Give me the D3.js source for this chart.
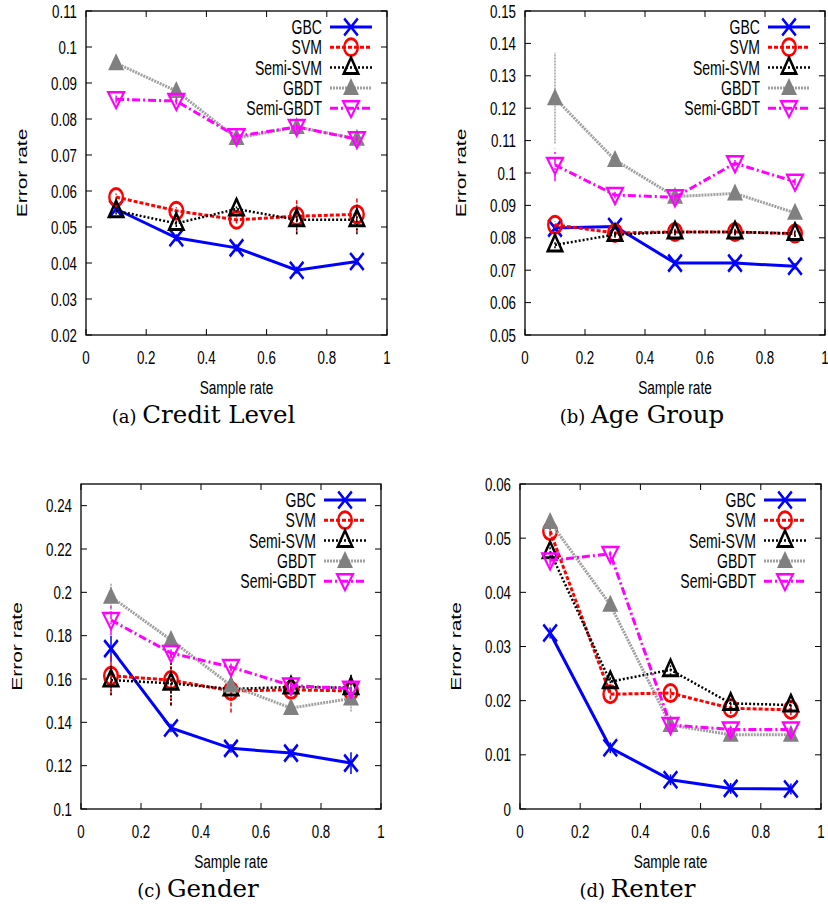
<!DOCTYPE html>
<html>
<head>
<meta charset="utf-8">
<script src="https://cdn.jsdelivr.net/npm/d3@7"></script>
<style>
  body { margin: 0; background: #fff; }
  svg { display: block; }
</style>
</head>
<body>
<div id="chart"></div>
<script>
// sample rates on the x axis, shared by all four panels
const sampleRates = [0.1, 0.3, 0.5, 0.7, 0.9];
const seriesNames = ["GBC", "SVM", "Semi-SVM", "GBDT", "Semi-GBDT"];
const xTicks = [0, 0.2, 0.4, 0.6, 0.8, 1];

// (a) Credit Level, one row per series
const creditValues = [
	[0.055, 0.047, 0.0442, 0.038, 0.0404],
	[0.0583, 0.0545, 0.052, 0.053, 0.0535],
	[0.0545, 0.051, 0.055, 0.052, 0.052],
	[0.0955, 0.0878, 0.0747, 0.0778, 0.0745],
	[0.0855, 0.085, 0.0752, 0.0778, 0.0744]
];
const creditErr = [
	[0.001, 0.001, 0.001, 0.001, 0.001],
	[0.001, 0.001, 0.001, 0.005, 0.005],
	[0.001, 0.001, 0.001, 0.004, 0.004],
	[0.001, 0.001, 0.001, 0.001, 0.001],
	[0.001, 0.001, 0.001, 0.001, 0.001]
];
const creditTicks = [0.02, 0.03, 0.04, 0.05, 0.06, 0.07, 0.08, 0.09, 0.1, 0.11];

// (b) Age Group
const ageValues = [
	[0.083, 0.0835, 0.0722, 0.0722, 0.0712],
	[0.084, 0.0815, 0.0818, 0.0818, 0.0813],
	[0.0778, 0.081, 0.0818, 0.0818, 0.0813],
	[0.1231, 0.104, 0.0927, 0.0937, 0.0877],
	[0.1025, 0.0932, 0.0925, 0.103, 0.0973]
];
const ageErr = [
	[0.001, 0.001, 0.001, 0.001, 0.001],
	[0.001, 0.001, 0.001, 0.001, 0.001],
	[0.001, 0.001, 0.001, 0.001, 0.001],
	[0.014, 0.001, 0.001, 0.001, 0.001],
	[0.005, 0.001, 0.001, 0.001, 0.001]
];
const ageTicks = [0.05, 0.06, 0.07, 0.08, 0.09, 0.1, 0.11, 0.12, 0.13, 0.14, 0.15];

// (c) Gender
const genderValues = [
	[0.174, 0.1374, 0.128, 0.1258, 0.1212],
	[0.1615, 0.1595, 0.1545, 0.155, 0.1545],
	[0.1595, 0.158, 0.1554, 0.1563, 0.156],
	[0.198, 0.178, 0.157, 0.1466, 0.151],
	[0.1872, 0.172, 0.1655, 0.157, 0.1555]
];
const genderErr = [
	[0.006, 0.002, 0.002, 0.002, 0.005],
	[0.009, 0.012, 0.01, 0.003, 0.006],
	[0.007, 0.01, 0.003, 0.003, 0.006],
	[0.006, 0.002, 0.002, 0.002, 0.006],
	[0.007, 0.002, 0.002, 0.002, 0.003]
];
const genderTicks = [0.1, 0.12, 0.14, 0.16, 0.18, 0.2, 0.22, 0.24];

// (d) Renter
const renterValues = [
	[0.0325, 0.0113, 0.0054, 0.0038, 0.0037],
	[0.0513, 0.0212, 0.0214, 0.0186, 0.0183],
	[0.0475, 0.0235, 0.0257, 0.0195, 0.0192],
	[0.053, 0.0377, 0.0155, 0.0137, 0.0137],
	[0.0459, 0.0471, 0.0155, 0.0147, 0.0147]
];
const renterErr = [
	[0.001, 0.001, 0.001, 0.001, 0.001],
	[0.001, 0.001, 0.001, 0.001, 0.001],
	[0.001, 0.001, 0.001, 0.001, 0.001],
	[0.001, 0.001, 0.001, 0.001, 0.001],
	[0.001, 0.001, 0.001, 0.001, 0.001]
];
const renterTicks = [0, 0.01, 0.02, 0.03, 0.04, 0.05, 0.06];

const captionLetters = ["(a)", "(b)", "(c)", "(d)"];
const captionTitles = ["Credit Level", "Age Group", "Gender", "Renter"];

// line look per series
const styles = [
	{ color: "#0000ff", width: 3, dash: null, marker: "x" },
	{ color: "#ff0000", width: 3, dash: "4,2", marker: "circle" },
	{ color: "#000000", width: 2.5, dash: "2,2", marker: "tri" },
	{ color: "#a0a0a0", width: 3, dash: "2,1", marker: "trifill" },
	{ color: "#ff00ff", width: 3, dash: "8,3,2,3", marker: "trid" }
];

const panels = [
	{ left: 86, right: 387, top: 11, bottom: 335, domain: [0.02, 0.11], ticks: creditTicks, values: creditValues, err: creditErr },
	{ left: 525, right: 825, top: 11, bottom: 335, domain: [0.05, 0.15], ticks: ageTicks, values: ageValues, err: ageErr },
	{ left: 81, right: 381, top: 484, bottom: 809, domain: [0.1, 0.25], ticks: genderTicks, values: genderValues, err: genderErr },
	{ left: 520, right: 821, top: 484, bottom: 809, domain: [0, 0.06], ticks: renterTicks, values: renterValues, err: renterErr }
];

const sx = 0.72; // text in the figure is squeezed horizontally
const sansFont = "'Liberation Sans', Arial, sans-serif";

let svg = d3.select("#chart")
	.append("svg")
	.attr("width", 828)
	.attr("height", 909);

function label(g, x, y, str, size, anchor) {
	return g.append("text")
		.attr("transform", "translate(" + x + "," + y + ") scale(" + sx + ",1)")
		.attr("text-anchor", anchor)
		.attr("font-family", sansFont)
		.attr("font-size", size)
		.attr("fill", "#000")
		.text(str);
}

function marker(g, type, color, x, y) {
	let m = g.append("g").attr("transform", "translate(" + x + "," + y + ") scale(0.8,1)");
	if (type == "x") {
		m.append("path").attr("d", "M-8.5,-8.5L8.5,8.5M-8.5,8.5L8.5,-8.5")
			.attr("stroke", color).attr("stroke-width", 3).attr("fill", "none");
	} else if (type == "circle") {
		m.append("circle").attr("r", 8.5)
			.attr("stroke", color).attr("stroke-width", 3).attr("fill", "none");
	} else if (type == "tri") {
		m.append("path").attr("d", "M0,-10L9,6L-9,6Z")
			.attr("stroke", color).attr("stroke-width", 3).attr("fill", "none");
	} else if (type == "trifill") {
		m.append("path").attr("d", "M0,-10L10,7L-10,7Z")
			.attr("fill", "#808080");
	} else {
		m.append("path").attr("d", "M0,9L10,-7L-10,-7Z")
			.attr("stroke", color).attr("stroke-width", 2.5).attr("fill", "none");
	}
}

panels.forEach(function (p, i) {
	let g = svg.append("g");
	let x = d3.scaleLinear().domain([0, 1]).range([p.left, p.right]);
	let y = d3.scaleLinear().domain(p.domain).range([p.bottom, p.top]);

	// inward ticks on all four sides, gnuplot style
	let ticks = g.append("g").attr("stroke", "#000").attr("stroke-width", 1);
	p.ticks.forEach(function (t) {
		ticks.append("line").attr("x1", p.left).attr("x2", p.left + 6).attr("y1", y(t)).attr("y2", y(t));
		ticks.append("line").attr("x1", p.right).attr("x2", p.right - 6).attr("y1", y(t)).attr("y2", y(t));
		label(g, p.left - 9, y(t) + 6.5, String(t), 18.5, "end");
	});
	xTicks.forEach(function (t) {
		ticks.append("line").attr("x1", x(t)).attr("x2", x(t)).attr("y1", p.bottom).attr("y2", p.bottom - 6);
		ticks.append("line").attr("x1", x(t)).attr("x2", x(t)).attr("y1", p.top).attr("y2", p.top + 6);
		label(g, x(t), p.bottom + 29, String(t), 18.5, "middle");
	});

	// axis titles
	label(g, (p.left + p.right) / 2, p.bottom + 59, "Sample rate", 19, "middle");
	g.append("text")
		.attr("transform", "translate(" + (p.left - 59) + "," + ((p.top + p.bottom) / 2) + ") scale(" + sx + ",1) rotate(-90)")
		.attr("text-anchor", "middle")
		.attr("font-family", sansFont)
		.attr("font-size", 21)
		.text("Error rate");

	// caption below
	let cap = g.append("text")
		.attr("x", (p.left + p.right) / 2 - 33)
		.attr("y", p.bottom + 88)
		.attr("text-anchor", "middle")
		.attr("font-family", "'DejaVu Serif', serif");
	cap.append("tspan").attr("font-size", 18).text(captionLetters[i] + " ");
	cap.append("tspan").attr("font-size", 24.5).text(captionTitles[i]);

	// series
	let line = d3.line()
		.x(function (d, j) { return x(sampleRates[j]); })
		.y(function (d) { return y(d); });

	p.values.forEach(function (vals, s) {
		let st = styles[s];
		let sg = g.append("g");
		vals.forEach(function (v, j) {
			let e = p.err[s][j];
			sg.append("line")
				.attr("x1", x(sampleRates[j])).attr("x2", x(sampleRates[j]))
				.attr("y1", y(v - e)).attr("y2", y(v + e))
				.attr("stroke", st.color).attr("stroke-width", 1.5)
				.attr("stroke-dasharray", st.dash);
		});
		sg.append("path")
			.attr("d", line(vals))
			.attr("fill", "none")
			.attr("stroke", st.color)
			.attr("stroke-width", st.width)
			.attr("stroke-dasharray", st.dash);
		vals.forEach(function (v, j) {
			marker(sg, st.marker, st.color, x(sampleRates[j]), y(v));
		});
	});

	// legend
	seriesNames.forEach(function (name, s) {
		let st = styles[s];
		let ly = p.top + 16 + s * 20.3;
		label(g, p.right - 65, ly + 7, name, 19.5, "end");
		g.append("line")
			.attr("x1", p.right - 57).attr("x2", p.right - 15)
			.attr("y1", ly).attr("y2", ly)
			.attr("stroke", st.color)
			.attr("stroke-width", st.width)
			.attr("stroke-dasharray", st.dash);
		marker(g, st.marker, st.color, p.right - 36, ly);
	});

	// frame
	g.append("rect")
		.attr("x", p.left).attr("y", p.top)
		.attr("width", p.right - p.left).attr("height", p.bottom - p.top)
		.attr("fill", "none").attr("stroke", "#000").attr("stroke-width", 1.3);
});
</script>
</body>
</html>
